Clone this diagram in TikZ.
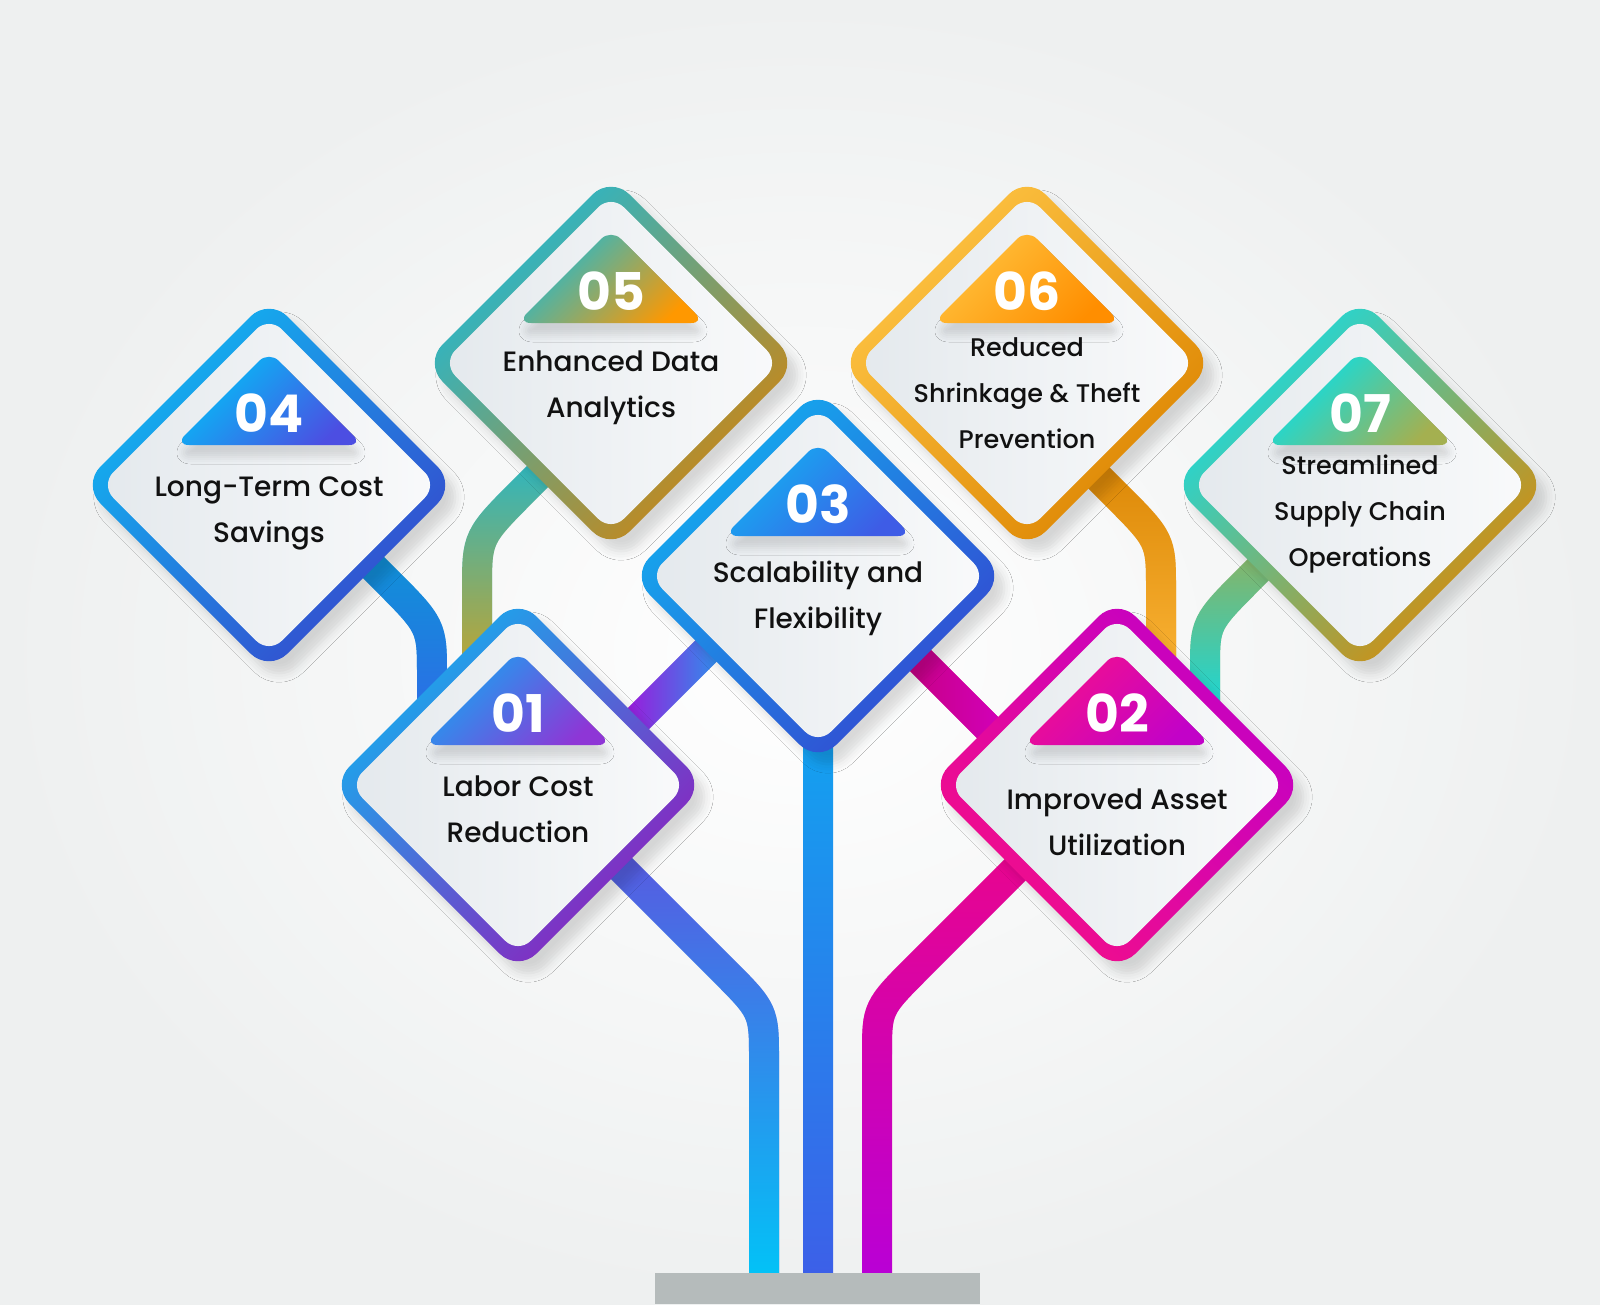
\documentclass[tikz,border=0pt]{standalone}
\usepackage{fontspec}
\setmainfont{Poppins}[UprightFont=* Medium, BoldFont=* Bold]
\usetikzlibrary{shapes.geometric,shadows.blur,fadings,calc,backgrounds}

\definecolor{bgout}{HTML}{EEF0F0}
\definecolor{basegray}{HTML}{B5BBBB}
\definecolor{fillL}{HTML}{E4E9ED}
\definecolor{fillR}{HTML}{F9FAFB}
\definecolor{txt}{HTML}{111111}
% rings
\definecolor{r1a}{HTML}{12B2F0}\definecolor{r1b}{HTML}{901CBC}
\definecolor{r2a}{HTML}{C200C6}\definecolor{r2b}{HTML}{F40E88}
\definecolor{r3a}{HTML}{12B0F0}\definecolor{r3b}{HTML}{3446D0}
\definecolor{r4a}{HTML}{10B8F2}\definecolor{r4b}{HTML}{3646CC}
\definecolor{r5a}{HTML}{1EBAD6}\definecolor{r5b}{HTML}{D2840C}
\definecolor{r6a}{HTML}{FFC646}\definecolor{r6b}{HTML}{DC8400}
\definecolor{r7a}{HTML}{12DEE8}\definecolor{r7b}{HTML}{E08800}
% badges
\definecolor{b1a}{HTML}{16A6F2}\definecolor{b1b}{HTML}{8E36D6}
\definecolor{b2a}{HTML}{F4108C}\definecolor{b2b}{HTML}{C202C8}
\definecolor{b3a}{HTML}{12B2F2}\definecolor{b3b}{HTML}{3E5CE6}
\definecolor{b4a}{HTML}{00C4F8}\definecolor{b4b}{HTML}{4C4EE2}
\definecolor{b5a}{HTML}{16BCDA}\definecolor{b5b}{HTML}{FF9800}
\definecolor{b6a}{HTML}{FFC440}\definecolor{b6b}{HTML}{FF8E00}
\definecolor{b7a}{HTML}{00E2F0}\definecolor{b7b}{HTML}{A4B050}
% pipes
\definecolor{p1a}{HTML}{5C56E0}\definecolor{p1b}{HTML}{00C6F8}
\definecolor{p2a}{HTML}{EA068C}\definecolor{p2b}{HTML}{B800D8}
\definecolor{p3a}{HTML}{10A6F0}\definecolor{p3b}{HTML}{3C60E8}
\definecolor{p4a}{HTML}{0C96D6}\definecolor{p4b}{HTML}{2E6CE8}
\definecolor{p5a}{HTML}{22B8CC}\definecolor{p5b}{HTML}{D8A21A}
\definecolor{p6a}{HTML}{DA8402}\definecolor{p6b}{HTML}{FFBA3C}
\definecolor{p7a}{HTML}{94B05A}\definecolor{p7b}{HTML}{00E0F2}
\definecolor{l1a}{HTML}{B400D8}\definecolor{l1b}{HTML}{16AAF0}
\definecolor{l2a}{HTML}{C6007A}\definecolor{l2b}{HTML}{D400C4}

\tikzfading[name=fadeup, top color=transparent!100, bottom color=transparent!0]
\tikzfading[name=faderight, left color=transparent!100, right color=transparent!0]

\tikzset{
  ringbox/.style={diamond, aspect=1, minimum size=374, inner sep=0, outer sep=0,
    rounded corners=26,
    blur shadow={shadow xshift=10pt, shadow yshift=-12pt, shadow blur radius=9pt, shadow opacity=14}},
  ring/.style n args={3}{top color=#1, bottom color=#2, shading angle=#3},
  fillbox/.style={diamond, aspect=1, minimum size=337, inner sep=0, outer sep=0,
    rounded corners=18, left color=fillL, right color=fillR},
  badge/.style={rounded corners=14,
    blur shadow={shadow xshift=2pt, shadow yshift=-12pt, shadow blur radius=7pt, shadow opacity=12}},
  num/.style={text=white, inner sep=0, font=\fontsize{52}{60}\selectfont\bfseries},
  lbl/.style={align=center, text=txt, inner sep=0, font=\fontsize{28}{46}\selectfont},
  lblsmall/.style={lbl, font=\fontsize{25.5}{46}\selectfont},
  pipe/.style 2 args={line width=30, draw=#1, postaction={draw=#2, path fading=fadeup}},
  link/.style 2 args={line width=30, draw=#1, postaction={draw=#2, path fading=faderight}},
}

\begin{document}
\begin{tikzpicture}[x=1pt, y=-1pt]
\useasboundingbox (0,0) rectangle (1600,1304);

% diamonds
\node[ringbox, ring={r1a}{r1b}{45}] (d1) at (518,785) {};
\node[ringbox, ring={r2a}{r2b}{-45}] (d2) at (1117,785) {};
\node[ringbox, ring={r3a}{r3b}{45}] (d3) at (818,576) {};
\node[ringbox, ring={r4a}{r4b}{45}] (d4) at (269,485) {};
\node[ringbox, ring={r5a}{r5b}{45}] (d5) at (611,363) {};
\node[ringbox, ring={r6a}{r6b}{45}] (d6) at (1027,363) {};
\node[ringbox, ring={r7a}{r7b}{45}] (d7) at (1360,485) {};
\foreach \d in {d1,d2,d3,d4,d5,d6,d7}
  \node[fillbox] (\d in) at (\d) {};

% number badges
\foreach \d/\ca/\cb in {d1/b1a/b1b, d2/b2a/b2b, d3/b3a/b3b, d4/b4a/b4b,
                        d5/b5a/b5b, d6/b6a/b6b, d7/b7a/b7b}
  \shade[badge, top color=\ca, bottom color=\cb, shading angle=45]
    ($(\d)+(0,-40)$) -- ($(\d)+(94,-40)$) -- ($(\d)+(0,-134)$)
    -- ($(\d)+(-94,-40)$) -- cycle;

\node[num] (n1) at ($(d1)+(0,-72)$) {01};
\node[num] (n2) at ($(d2)+(0,-72)$) {02};
\node[num] (n3) at ($(d3)+(0,-72)$) {03};
\node[num] (n4) at ($(d4)+(0,-72)$) {04};
\node[num] (n5) at ($(d5)+(0,-72)$) {05};
\node[num] (n6) at ($(d6)+(0,-72)$) {06};
\node[num] (n7) at ($(d7)+(0,-72)$) {07};

\node[lbl] (t1) at ($(d1)+(0,24)$) {Labor Cost\\Reduction};
\node[lbl] (t2) at ($(d2)+(0,37)$) {Improved Asset\\Utilization};
\node[lbl] (t3) at ($(d3)+(0,22)$) {Scalability and\\Flexibility};
\node[lbl] (t4) at ($(d4)+(0,28)$) {Long-Term Cost\\Savings};
\node[lbl] (t5) at ($(d5)+(0,25)$) {Enhanced Data\\Analytics};
\node[lblsmall] (t6) at ($(d6)+(0,30)$) {Reduced\\Shrinkage \& Theft\\Prevention};
\node[lblsmall] (t7) at ($(d7)+(0,29)$) {Streamlined\\Supply Chain\\Operations};

% stand
\node[fill=basegray, minimum width=325, minimum height=31, inner sep=0, outer sep=0,
  anchor=north] (base) at (817.5,1273) {};

\begin{scope}[on background layer]
  \shade[inner color=white, outer color=bgout] (0,0) rectangle (1600,1304);
  % stems
  \draw[pipe={p1a}{p1b}] ($(d1)+(85,65)$) -- (722,969) .. controls (764,1011) .. (764,1060)
    -- (base.north -| 764,0);
  \draw[pipe={p2a}{p2b}] ($(d2)+(-84,67)$) -- (919,966) .. controls (877,1008) .. (877,1055)
    -- (base.north -| 877,0);
  \shade[top color=p3a, bottom color=p3b] ($(d3)+(-15,120)$) rectangle ($(d3 |- base.north)+(15,0)$);
  % branches
  \draw[pipe={p4a}{p4b}] ($(d4)+(86,64)$) -- (384,578) .. controls (432,626) .. (432,676)
    -- ($(d1)+(-86,-75)$);
  \draw[pipe={p5a}{p5b}] ($(d5)+(-55,95)$) -- (525,489) .. controls (477,537) .. (477,590)
    -- ($(d1)+(-41,-95)$);
  \draw[pipe={p6a}{p6b}] ($(d6)+(53,96)$) -- (1114,493) .. controls (1161,540) .. (1161,590)
    -- ($(d2)+(44,-95)$);
  \draw[pipe={p7a}{p7b}] ($(d7)+(-84,67)$) -- (1250,578) .. controls (1205,623) .. (1205,670)
    -- ($(d2)+(88,-55)$);
  \draw[link={l1a}{l1b}] ($(d1)+(102,-48)$) -- ($(d3)+(-93,56)$);
  \draw[link={l2a}{l2b}] ($(d3)+(84,66)$) -- ($(d2)+(-111,-39)$);
\end{scope}
\end{tikzpicture}
\end{document}
